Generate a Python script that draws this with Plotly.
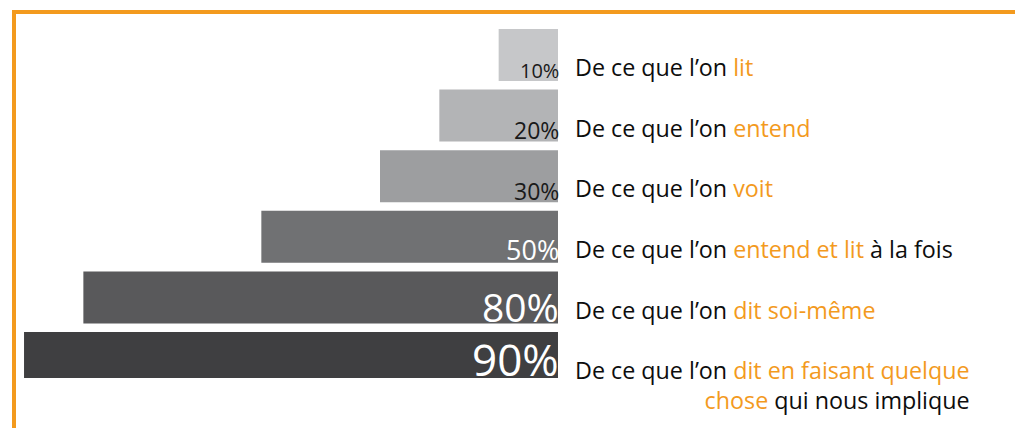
import plotly.graph_objects as go

# Retention rates by learning mode
values = [10, 20, 30, 50, 80, 90]
value_labels = ["10%", "20%", "30%", "50%", "80%", "90%"]
lead_text = "De ce que l’on"
highlight_text = ["lit", "entend", "voit", "entend et lit", "dit soi-même",
                  "dit en faisant quelque<br>chose"]
tail_text = ["", "", "", " à la fois", "", " qui nous implique"]

# Styling
bar_colors = ["#c6c7c9", "#b3b4b6", "#9d9ea0", "#707173", "#59595b", "#3f3f41"]
pct_font_sizes = [20, 23, 23, 27, 39, 44]
pct_colors = ["#1a1a1a", "#1a1a1a", "#1a1a1a", "#ffffff", "#ffffff", "#ffffff"]
bar_widths = [0.858, 0.858, 0.858, 0.858, 0.858, 0.759]
bar_offsets = [-0.429] * 6
LABEL_SIZE = 23.3
ORANGE = "#f39a1e"
TEXT = "#0d0d0d"
FONT = "Open Sans"

positions = list(range(len(values)))

fig = go.Figure(
    go.Bar(
        x=values,
        y=positions,
        orientation="h",
        width=bar_widths,
        offset=bar_offsets,
        marker=dict(color=bar_colors, line=dict(width=0)),
        hoverinfo="skip",
    )
)

annotations = []
for i, pos in enumerate(positions):
    bottom = pos + bar_offsets[i] + bar_widths[i]
    annotations.append(dict(
        x=0, y=bottom, xref="x", yref="y",
        text=value_labels[i], showarrow=False,
        xanchor="right", yanchor="bottom", xshift=3,
        yshift=-0.32 * pct_font_sizes[i] + 1,
        font=dict(family=FONT, size=pct_font_sizes[i], color=pct_colors[i]),
    ))
    label = (f"{lead_text} <span style='color:{ORANGE}'>{highlight_text[i]}</span>"
             f"{tail_text[i]}")
    two_lines = "<br>" in highlight_text[i]
    annotations.append(dict(
        x=0, y=pos + bar_offsets[i] + bar_widths[0], xref="x", yref="y",
        text=label, showarrow=False, align="right",
        xanchor="left", yanchor="bottom", xshift=15,
        yshift=-0.22 * LABEL_SIZE + 1 - (30 if two_lines else 0),
        font=dict(family=FONT, size=LABEL_SIZE, color=TEXT),
    ))

# L-shaped orange frame along the top and left edges
W, H = 1015, 428
shapes = [
    dict(type="line", xref="paper", yref="paper", x0=12 / W, x1=1.0,
         y0=1 - 12 / H, y1=1 - 12 / H, line=dict(color=ORANGE, width=4)),
    dict(type="line", xref="paper", yref="paper", x0=14 / W, x1=14 / W,
         y0=1 - 10 / H, y1=0, line=dict(color=ORANGE, width=4)),
]

fig.update_layout(
    width=W, height=H,
    margin=dict(l=0, r=0, t=0, b=0),
    paper_bgcolor="#ffffff", plot_bgcolor="#ffffff",
    showlegend=False,
    xaxis=dict(range=[94.05, -77.03], visible=False, fixedrange=True),
    yaxis=dict(range=[6.155, -0.9076], visible=False, fixedrange=True),
    annotations=annotations,
    shapes=shapes,
)

fig.write_html("out.html")
